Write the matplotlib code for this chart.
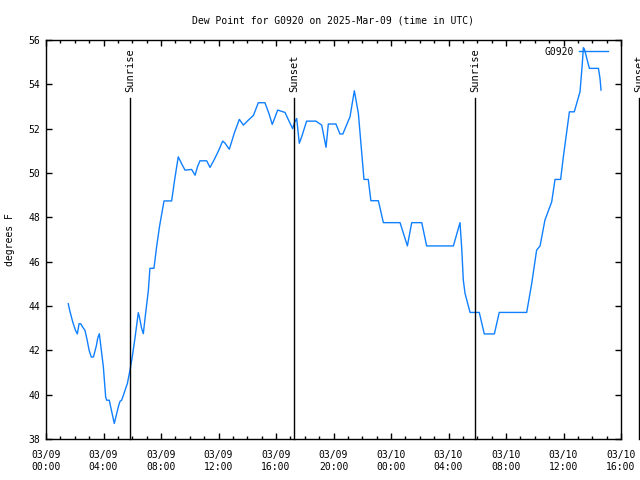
import matplotlib
matplotlib.use("Agg")
import matplotlib.pyplot as plt
import matplotlib.dates as mdates
from matplotlib.ticker import MultipleLocator
import datetime as dt

plt.rcParams['font.family'] = ['DejaVu Sans Mono']
plt.rcParams['font.size'] = 7

start = dt.datetime(2025, 3, 9, 0, 0)

# hours after 2025-03-09 00:00 UTC
hours = [1.55, 1.65, 1.85, 2.05, 2.18, 2.3, 2.41, 2.55, 2.71, 2.85, 3.0, 3.15, 3.3, 3.5, 3.6,
         3.71, 3.85, 3.99, 4.08, 4.15, 4.22, 4.4, 4.55, 4.75, 4.9, 5.05, 5.15, 5.26, 5.4, 5.55,
         5.66, 5.84, 6.0, 6.2, 6.42, 6.5, 6.65, 6.77, 6.9, 7.12, 7.23, 7.51, 7.7, 7.9, 8.21,
         8.74, 8.95, 9.2, 9.45, 9.67, 10.13, 10.37, 10.55, 10.71, 11.18, 11.41, 11.7, 12.0, 12.29,
         12.45, 12.75, 13.1, 13.45, 13.73, 14.1, 14.43, 14.77, 15.23, 15.5, 15.74, 16.12, 16.63,
         16.9, 17.16, 17.28, 17.44, 17.62, 17.79, 18.13, 18.78, 19.18, 19.41, 19.48, 19.64, 20.17,
         20.45, 20.65, 21.15, 21.45, 21.73, 22.12, 22.42, 22.6, 23.12, 23.47, 24.63, 25.14, 25.44,
         26.14, 26.48, 28.34, 28.8, 28.92, 29.03, 29.15, 29.5, 30.14, 30.49, 31.19, 31.53, 33.44,
         33.79, 34.13, 34.37, 34.71, 35.18, 35.41, 35.8, 35.99, 36.41, 36.75, 37.15, 37.31, 37.38,
         37.45, 37.8, 38.43, 38.54, 38.61]
dewpoint = [44.1, 43.8, 43.3, 42.9, 42.74, 43.2, 43.2, 43.05, 42.9, 42.5, 42.0, 41.7, 41.7, 42.2, 42.55,
            42.75, 42.0, 41.25, 40.5, 39.9, 39.75, 39.75, 39.3, 38.7, 39.1, 39.5, 39.7, 39.75, 40.0, 40.3,
            40.5, 41.1, 41.7, 42.6, 43.7, 43.5, 43.0, 42.75, 43.5, 44.7, 45.7, 45.7, 46.7, 47.6, 48.74,
            48.74, 49.7, 50.73, 50.4, 50.13, 50.16, 49.9, 50.3, 50.55, 50.55, 50.25, 50.6, 51.0, 51.44,
            51.35, 51.07, 51.8, 52.42, 52.16, 52.4, 52.6, 53.17, 53.17, 52.7, 52.19, 52.84, 52.73,
            52.35, 52.0, 52.27, 52.46, 51.34, 51.64, 52.34, 52.34, 52.16, 51.41, 51.16, 52.21, 52.21,
            51.76, 51.76, 52.54, 53.71, 52.69, 49.71, 49.71, 48.75, 48.75, 47.76, 47.76, 46.71, 47.76,
            47.76, 46.71, 46.71, 47.76, 46.6, 45.17, 44.57, 43.71, 43.71, 42.74, 42.74, 43.71, 43.71,
            45.02, 46.52, 46.71, 47.88, 48.7, 49.71, 49.71, 50.73, 52.76, 52.76, 53.67, 54.95, 55.65,
            55.6, 54.72, 54.72, 54.27, 53.74]

sun_events = ["Sunrise", "Sunset", "Sunrise", "Sunset"]
sun_hours = [5.84, 17.25, 29.84, 41.25]

station = "G0920"

times = [start + dt.timedelta(hours=h) for h in hours]

fig = plt.figure(figsize=(6.4, 4.8), dpi=100)
ax = fig.add_axes([46/640, 1-439/480, 575/640, 399/480])

ax.plot(times, dewpoint, color='#1080ff', lw=1.0, label=station)

for name, h in zip(sun_events, sun_hours):
    t = start + dt.timedelta(hours=h)
    ax.plot([t, t], [38, 53.4], color='black', lw=1.0, clip_on=False)
    ax.text(t, 53.65, name, rotation=90, ha='center', va='bottom', clip_on=False,
            fontsize=7.5)

ax.set_xlim(start, start + dt.timedelta(hours=40))
ax.set_ylim(38, 56)
ax.yaxis.set_major_locator(MultipleLocator(2))
ax.xaxis.set_major_locator(mdates.HourLocator(byhour=range(0, 24, 4)))
ax.xaxis.set_minor_locator(mdates.HourLocator())
ax.xaxis.set_major_formatter(mdates.DateFormatter('%m/%d\n%H:%M'))
ax.tick_params(which='both', direction='in', top=True, right=True, width=1.0)
ax.tick_params(which='major', length=4)
ax.tick_params(which='minor', length=2)
ax.tick_params(axis='x', which='major', pad=8)
ax.tick_params(axis='y', pad=4)

for s in ax.spines.values():
    s.set_linewidth(1.0)

ax.set_title("Dew Point for G0920 on 2025-Mar-09 (time in UTC)", fontsize=7, pad=12)
ax.set_ylabel("degrees F", labelpad=10)

leg = ax.legend(loc='upper right', frameon=False, markerfirst=False, handlelength=3.0,
                handletextpad=0.6, borderaxespad=0.3, bbox_to_anchor=(0.99, 1.0))

fig.savefig("out.png", dpi=100)
